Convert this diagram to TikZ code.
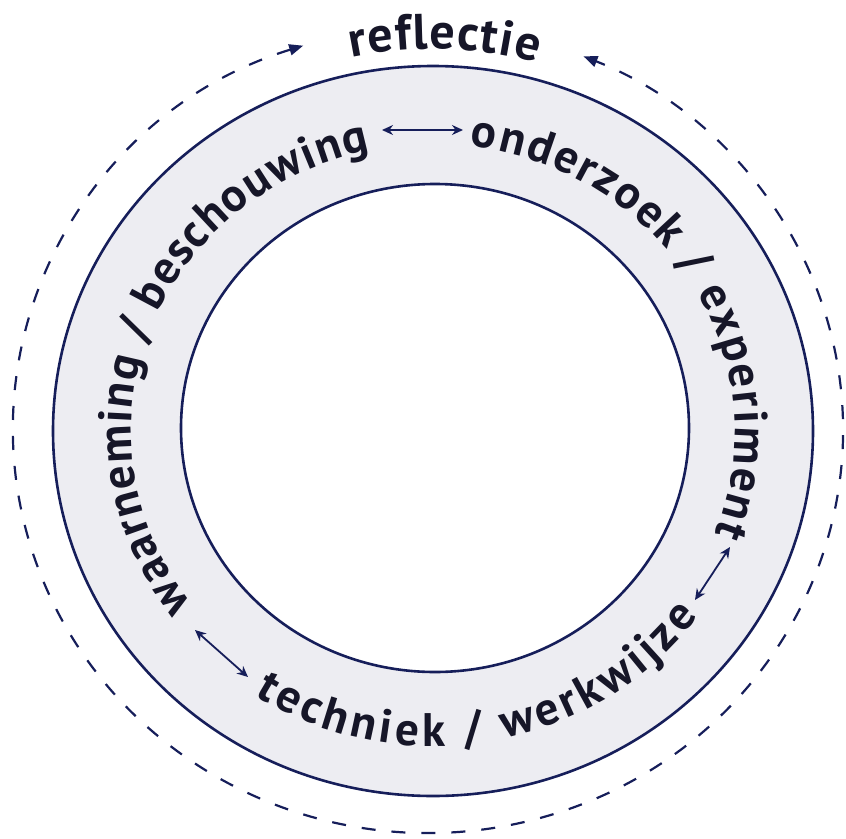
\documentclass[tikz,border=0pt]{standalone}
\usepackage{fontspec}
\setmainfont{PT Sans}
\newfontfamily\ringfont{PT Sans}
\usetikzlibrary{decorations.text,arrows.meta,calc}
\definecolor{linecol}{RGB}{22,30,90}
\definecolor{textcol}{RGB}{22,22,40}
\definecolor{ringfill}{RGB}{237,237,242}
\begin{document}
\begin{tikzpicture}[x=1pt,y=1pt,
  ringline/.style={draw=linecol, line width=2.6pt},
  dashring/.style={draw=linecol, line width=2.2pt, dash pattern=on 14pt off 16pt},
  dbl/.style={draw=linecol, line width=1.8pt, {Stealth[length=11pt,width=10pt]}-{Stealth[length=11pt,width=10pt]}},
  arctext/.style={decorate, decoration={text along path, text align={fit to path}, text color=textcol, text={#1}}}
]
\useasboundingbox (0,0) rectangle (846,-838);
\coordinate (C) at (433,-431);
\coordinate (Ci) at (435,-428);
\coordinate (Cd) at (428,-430);
\fill[ringfill, even odd rule] (C) ellipse [x radius=380, y radius=365] (Ci) ellipse [x radius=254, y radius=244];
\draw[ringline] (C) ellipse [x radius=380, y radius=365];
\draw[ringline] (Ci) ellipse [x radius=254, y radius=244];
\draw[dashring, {Triangle[length=14pt,width=11pt]}-{Triangle[length=14pt,width=11pt]}] ($(Cd)+(107.5:415 and 403)$) arc[start angle=107.5, end angle=428, x radius=415, y radius=403];
% texts
\path[arctext={|\ringfont\bfseries\fontsize{47}{52}\selectfont|waarneming / beschouwing}] ($(C)+(217:302 and 287)$) arc[start angle=217, end angle=102, x radius=302, y radius=287];
\path[arctext={|\ringfont\bfseries\fontsize{47}{52}\selectfont|onderzoek / experiment}] ($(C)+(83:302 and 287)$) arc[start angle=83, end angle=-21, x radius=302, y radius=287];
\path[arctext={|\ringfont\bfseries\fontsize{47}{52}\selectfont|techniek / werkwijze}] ($(C)+(237:328 and 315)$) arc[start angle=237, end angle=324, x radius=328, y radius=315];
\path[arctext={|\ringfont\bfseries\fontsize{50}{56}\selectfont|reflectie}] ($(C)+(102:393 and 382)$) arc[start angle=102, end angle=74.7, x radius=393, y radius=382];
% arrows
\coordinate (a1s) at (382,-130); \coordinate (a1e) at (463,-130);
\coordinate (a2s) at (730,-547); \coordinate (a2e) at (695,-600);
\coordinate (a3s) at (195,-630); \coordinate (a3e) at (248,-677);
\draw[dbl] (a1s) -- (a1e);
\draw[dbl] (a2s) -- (a2e);
\draw[dbl] (a3s) -- (a3e);
\end{tikzpicture}
\end{document}
